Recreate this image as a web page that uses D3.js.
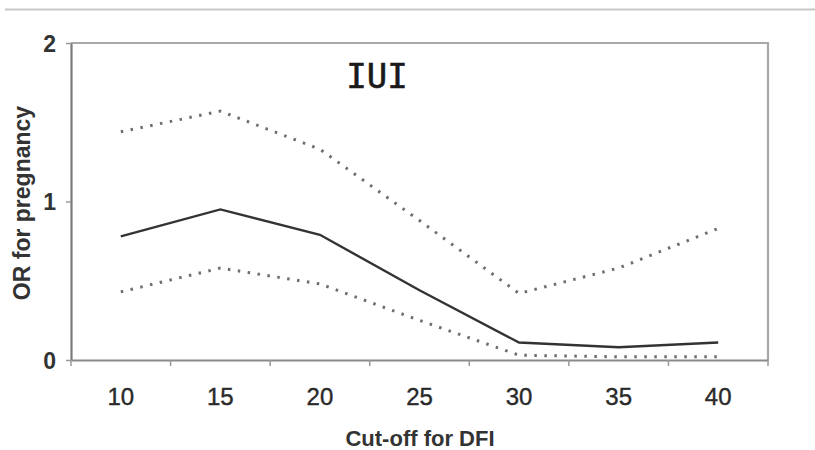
<!DOCTYPE html>
<html><head><meta charset="utf-8">
<script src="https://cdn.jsdelivr.net/npm/d3@7"></script>
<style>body{margin:0;background:#fff}svg{display:block}</style>
</head><body>
<svg id="c" width="815" height="450"></svg>
<script>
const categories = ["10","15","20","25","30","35","40"];
const orValues   = [0.78, 0.95, 0.79, 0.44, 0.11, 0.08, 0.11];
const upperCI    = [1.44, 1.57, 1.33, 0.88, 0.42, 0.58, 0.83];
const lowerCI    = [0.43, 0.58, 0.48, 0.25, 0.03, 0.02, 0.02];
const yTicks     = [0, 1, 2];
const title = "IUI", xTitle = "Cut-off for DFI", yTitle = "OR for pregnancy";

const svg = d3.select("#c");
const L = 71, R = 768, T = 43, B = 360;
const x = d3.scaleBand().domain(categories).range([L, R]).padding(0);
const y = d3.scaleLinear().domain([0, 2]).range([B, T]);

// top separator line
svg.append("line").attr("x1",5).attr("x2",815).attr("y1",9.5).attr("y2",9.5)
  .attr("stroke","#c8c8c8").attr("stroke-width",2);

// plot frame (top & right)
svg.append("path").attr("d",`M${L},${T}H${R}V${B}`).attr("fill","none")
  .attr("stroke","#a8a8a8").attr("stroke-width",2.2);

// y axis
const ya = svg.append("g").attr("transform",`translate(${L},0)`)
  .call(d3.axisLeft(y).tickValues(yTicks).tickSize(5).tickSizeOuter(0).tickFormat(d3.format("d")));
ya.select(".domain").attr("stroke","#7a7a7a").attr("stroke-width",2.2);
ya.selectAll(".tick line").attr("stroke","#999").attr("stroke-width",1.5);
ya.selectAll(".tick text").attr("x",-15).attr("dy","0.36em").attr("font-family","Liberation Sans, Arial, sans-serif")
  .attr("font-size",23).attr("font-weight","bold").attr("fill","#333");

// x axis
const xa = svg.append("g").attr("transform",`translate(0,${B})`)
  .call(d3.axisBottom(x).tickSize(0).tickSizeOuter(0));
xa.select(".domain").attr("stroke","#8a8a8a").attr("stroke-width",2.2);
xa.selectAll(".tick text").attr("dy",0).attr("y",45).attr("font-family","Liberation Sans, Arial, sans-serif")
  .attr("font-size",24).attr("fill","#2a2a2a").attr("stroke","#2a2a2a").attr("stroke-width",0.4);
// ticks at band boundaries
const bounds = categories.map(c => x(c)).concat([x(categories[categories.length-1]) + x.bandwidth()]);
svg.append("g").selectAll("line").data(bounds).join("line")
  .attr("x1",d=>d).attr("x2",d=>d).attr("y1",B).attr("y2",B+6)
  .attr("stroke","#999").attr("stroke-width",1.5);

const line = d3.line().x((d,i)=>x(categories[i]) + x.bandwidth()/2).y(d=>y(d));

// CI lines (dotted)
[upperCI, lowerCI].forEach(arr => {
  svg.append("path").datum(arr).attr("d",line).attr("fill","none")
    .attr("stroke","#6e6e6e").attr("stroke-width",3)
    .attr("stroke-dasharray","2.5,7.5");
});
// OR line
svg.append("path").datum(orValues).attr("d",line).attr("fill","none")
  .attr("stroke","#333").attr("stroke-width",2.4);

// title
svg.append("text").attr("x",377).attr("y",88).attr("text-anchor","middle")
  .attr("font-family","DejaVu Sans Mono, monospace").attr("font-size",34).attr("fill","#1a1a1a")
  .attr("stroke","#1a1a1a").attr("stroke-width",0.6).text(title);

// axis titles
svg.append("text").attr("x",420).attr("y",446).attr("text-anchor","middle")
  .attr("font-family","Liberation Sans, Arial, sans-serif").attr("font-size",22).attr("font-weight","bold")
  .attr("fill","#333").text(xTitle);
svg.append("text").attr("transform","translate(30,203) rotate(-90)").attr("text-anchor","middle")
  .attr("font-family","Liberation Sans, Arial, sans-serif").attr("font-size",23).attr("font-weight","bold")
  .attr("fill","#333").text(yTitle);
</script>
</body></html>
